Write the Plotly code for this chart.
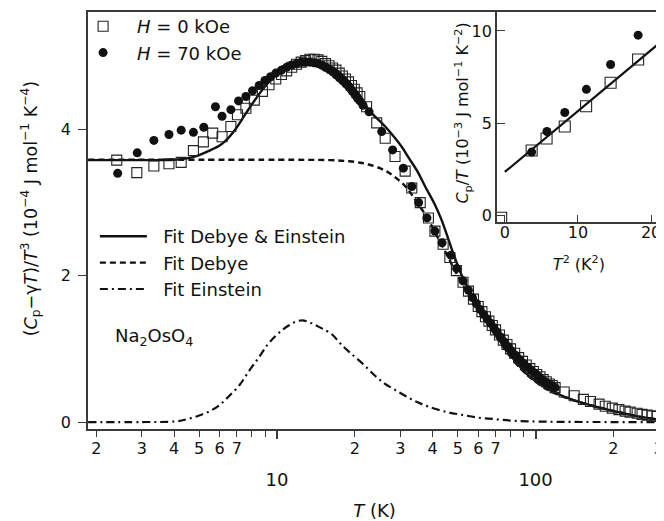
import plotly.graph_objects as go

# ---------------- data ----------------
# H = 0 kOe  (open squares)
T_h0 = [2.40, 2.87, 3.34, 3.82, 4.26, 4.75, 5.19, 5.64, 6.13, 6.63, 7.03, 7.58, 8.17, 8.78, 9.31, 9.89,
        10.4, 10.9, 11.4, 11.9, 12.4, 12.9, 13.4, 13.9, 14.4, 14.9, 15.4, 15.9, 16.4, 16.9, 17.4, 17.9,
        18.4, 18.9, 19.4, 19.9, 20.4, 20.9,
        22.2, 24.3, 26.2, 28.6, 31.3, 33.2, 35.8, 38.5, 40.8, 43.9, 46.6, 49.4, 52.4, 55.0, 57.5,
        60, 62, 64, 66, 68, 70, 72.5, 75, 77.5, 80, 83, 86, 89, 92, 95, 98, 101, 104, 107, 110, 113, 116, 119,
        129, 141, 153, 163, 176, 186, 198, 210, 222, 232, 247, 258, 270, 282, 295]
C_h0 = [3.58, 3.41, 3.50, 3.53, 3.55, 3.71, 3.83, 3.95, 3.90, 4.04, 4.20, 4.29, 4.40, 4.52, 4.61, 4.69,
        4.75, 4.80, 4.85, 4.89, 4.92, 4.94, 4.96, 4.96, 4.95, 4.93, 4.90, 4.87, 4.84, 4.81, 4.77, 4.73,
        4.69, 4.65, 4.60, 4.55, 4.50, 4.45,
        4.31, 4.09, 3.88, 3.63, 3.43, 3.20, 3.00, 2.79, 2.61, 2.43, 2.25, 2.07, 1.91, 1.79, 1.68,
        1.58, 1.51, 1.44, 1.38, 1.32, 1.26, 1.19, 1.12, 1.06, 1.00, 0.94, 0.88, 0.83, 0.78, 0.73, 0.69, 0.65,
        0.62, 0.58, 0.55, 0.52, 0.50, 0.47,
        0.41, 0.36, 0.31, 0.28, 0.245, 0.215, 0.19, 0.17, 0.15, 0.135, 0.12, 0.105, 0.095, 0.085, 0.075]

# H = 70 kOe (filled circles)
T_h70 = [2.42, 2.88, 3.34, 3.82, 4.26, 4.75, 5.21, 5.78, 6.13, 6.63, 7.10, 7.58, 8.04, 8.53, 8.98, 9.44, 9.89,
         10.4, 10.9, 11.4, 11.9, 12.4, 12.9, 13.4, 13.9, 14.4, 14.9, 15.4, 15.9, 16.4, 16.9, 17.4, 17.9,
         18.4, 18.9, 19.4, 19.9, 20.4, 20.9, 21.5,
         22.7, 25.4, 28.0, 30.8, 33.2, 35.3, 38.0, 40.8, 43.5, 47.1, 49.5, 52.4, 55, 57, 59, 61, 63, 65, 67,
         69, 71, 73.5, 76, 78.5, 81, 84, 87, 90, 93, 96, 99, 102, 105, 108, 111, 114, 117, 119]
C_h70 = [3.40, 3.68, 3.85, 3.93, 3.99, 3.96, 4.03, 4.31, 4.18, 4.27, 4.39, 4.45, 4.53, 4.60, 4.67, 4.72, 4.77,
         4.81, 4.85, 4.88, 4.90, 4.92, 4.92, 4.92, 4.91, 4.90, 4.88, 4.85, 4.82, 4.79, 4.75, 4.71, 4.67,
         4.63, 4.59, 4.54, 4.49, 4.44, 4.39, 4.33,
         4.24, 3.97, 3.72, 3.47, 3.22, 3.00, 2.79, 2.61, 2.45, 2.28, 2.10, 1.93, 1.80, 1.70, 1.62, 1.54, 1.47,
         1.41, 1.35, 1.29, 1.23, 1.16, 1.09, 1.03, 0.97, 0.91, 0.85, 0.80, 0.75, 0.71, 0.67, 0.63, 0.59, 0.56,
         0.53, 0.51, 0.48, 0.47]

# Fit curves
T_fit_de = [1.86, 2.5, 3.0, 3.5, 4.0, 4.59, 5.0, 5.48, 6.0, 6.35, 6.93, 7.58, 8.28, 9.05, 9.9, 11.0, 12.0,
            13.3, 14.5, 16.0, 18.0, 20.7, 22.6, 26.2, 30.4, 32.2, 35.0, 37.4, 40.8, 43.2, 46.0, 48.1, 51.6,
            55.0, 58.0, 65, 72, 80, 93, 108, 121, 140, 163, 190, 219, 255, 305]
C_fit_de = [3.58, 3.58, 3.58, 3.58, 3.585, 3.61, 3.65, 3.71, 3.78, 3.85, 4.01, 4.22, 4.42, 4.60, 4.74, 4.85,
            4.91, 4.94, 4.93, 4.87, 4.74, 4.48, 4.27, 4.04, 3.76, 3.62, 3.42, 3.22, 2.97, 2.77, 2.50, 2.30,
            2.02, 1.82, 1.66, 1.38, 1.13, 0.91, 0.65, 0.48, 0.39, 0.30, 0.23, 0.17, 0.12, 0.07, 0.03]

T_fit_d = [1.86, 10, 16, 19, 21, 22.6, 25, 27, 29, 31, 32.7, 35, 38, 41, 44, 47, 50, 55, 60, 70, 80, 93,
           108, 121, 140, 163, 190, 219, 255, 305]
C_fit_d = [3.585, 3.585, 3.58, 3.565, 3.545, 3.52, 3.47, 3.41, 3.33, 3.24, 3.14, 2.99, 2.80, 2.58, 2.38,
           2.18, 2.00, 1.74, 1.53, 1.18, 0.89, 0.64, 0.47, 0.38, 0.30, 0.23, 0.17, 0.12, 0.07, 0.03]

T_fit_e = [1.86, 3.0, 4.08, 4.5, 5.0, 5.5, 5.98, 6.5, 7.14, 7.8, 8.53, 9.2, 9.89, 10.5, 11.1, 11.8, 12.5,
           13.2, 14.0, 14.9, 16.3, 17.5, 19.0, 21.4, 24.0, 26.0, 28.6, 32.0, 35.0, 38.5, 45.0, 51.6, 60.0,
           69.4, 80, 93, 120, 305]
C_fit_e = [0.0, 0.0, 0.01, 0.04, 0.09, 0.15, 0.23, 0.35, 0.50, 0.70, 0.89, 1.06, 1.18, 1.26, 1.32, 1.37,
           1.39, 1.37, 1.33, 1.28, 1.20, 1.08, 0.96, 0.80, 0.63, 0.53, 0.44, 0.34, 0.27, 0.21, 0.14, 0.10,
           0.06, 0.04, 0.02, 0.01, 0.003, 0.0]

# Inset: Cp/T vs T^2
T2_h0 = [-0.5, 3.67, 5.71, 8.2, 11.12, 14.47, 18.23]
CpT_h0 = [-0.15, 3.51, 4.16, 4.81, 5.91, 7.19, 8.45]
T2_h70 = [3.67, 5.76, 8.2, 11.16, 14.47, 18.23]
CpT_h70 = [3.42, 4.54, 5.57, 6.83, 8.18, 9.77]
T2_fit = [0, 22]
CpT_fit = [2.34, 9.62]

# Tick labels
minor_tickvals = [2, 3, 4, 5, 6, 7, 20, 30, 40, 50, 60, 70, 200, 300]
minor_ticktext = ["2", "3", "4", "5", "6", "7", "2", "3", "4", "5", "6", "7", "2", "3"]
unlabeled_tickvals = [8, 9, 80, 90]
major_tickvals = [10, 100]
major_ticktext = ["10", "100"]

FONT = "DejaVu Sans"
INK = "#111111"
AX = "#3a3a3a"
PAD = "&nbsp;&nbsp;"

fig = go.Figure()

fig.add_trace(go.Scatter(x=T_fit_de, y=C_fit_de, mode="lines", name=PAD + "Fit Debye &amp; Einstein",
                         line=dict(color=INK, width=2.4, shape="spline"), legend="legend2"))
fig.add_trace(go.Scatter(x=T_fit_d, y=C_fit_d, mode="lines", name=PAD + "Fit Debye",
                         line=dict(color=INK, width=2.4, dash="6px,4px", shape="spline"), legend="legend2"))
fig.add_trace(go.Scatter(x=T_fit_e, y=C_fit_e, mode="lines", name=PAD + "Fit Einstein",
                         line=dict(color=INK, width=2.2, dash="8px,4px,2px,4px", shape="spline"),
                         legend="legend2"))
fig.add_trace(go.Scatter(x=T_h0, y=C_h0, mode="markers", name="<i>H</i> = 0 kOe",
                         marker=dict(symbol="square-open", size=10, color="#222222", line=dict(width=1.1)),
                         legend="legend"))
fig.add_trace(go.Scatter(x=T_h70, y=C_h70, mode="markers", name="<i>H</i> = 70 kOe",
                         marker=dict(symbol="circle", size=9, color=INK), legend="legend"))

# inset
fig.add_trace(go.Scatter(x=T2_fit, y=CpT_fit, mode="lines", line=dict(color=INK, width=2.2),
                         xaxis="x2", yaxis="y2", showlegend=False))
fig.add_trace(go.Scatter(x=T2_h0, y=CpT_h0, mode="markers", xaxis="x2", yaxis="y2", showlegend=False,
                         marker=dict(symbol="square-open", size=11, color="#222222", line=dict(width=1.1))))
fig.add_trace(go.Scatter(x=T2_h70, y=CpT_h70, mode="markers", xaxis="x2", yaxis="y2", showlegend=False,
                         marker=dict(symbol="circle", size=9, color=INK)))
# invisible trace to host the major-tick overlay axis
fig.add_trace(go.Scatter(x=[10], y=[0], mode="markers", marker=dict(opacity=0), xaxis="x3", yaxis="y",
                         showlegend=False, hoverinfo="skip"))

# The page body has an 8 px margin, so the figure is 8 px smaller and shifted.
fig.update_layout(
    width=656, height=513,
    margin=dict(l=80, r=0, t=2, b=92),
    paper_bgcolor="white", plot_bgcolor="white",
    font=dict(family=FONT, size=16, color=INK),
    xaxis=dict(type="log", range=[0.269, 2.485], domain=[0, 1], anchor="y",
               tickmode="array", tickvals=minor_tickvals, ticktext=minor_ticktext,
               ticks="outside", ticklen=6, tickwidth=1.3, tickcolor=AX,
               minor=dict(tickmode="array", tickvals=unlabeled_tickvals, ticks="outside", ticklen=6,
                          tickwidth=1.3, tickcolor=AX, showgrid=False),
               tickfont=dict(size=16), ticklabelstandoff=-2, ticklabeloverflow="allow",
               showline=True, linecolor=AX, linewidth=1.6, mirror=True,
               showgrid=False, zeroline=False,
               title=dict(text="<i>T</i> (K)", font=dict(size=18), standoff=47)),
    xaxis3=dict(type="log", range=[0.269, 2.485], overlaying="x", anchor="y", side="bottom",
                tickmode="array", tickvals=major_tickvals, ticktext=major_ticktext,
                ticks="outside", ticklen=9, tickwidth=1.5, tickcolor=AX,
                tickfont=dict(size=18), ticklabelstandoff=25,
                showline=False, showgrid=False, zeroline=False),
    yaxis=dict(range=[-0.095, 5.605], domain=[0, 1], anchor="x",
               tickmode="array", tickvals=[0, 2, 4], ticks="outside", ticklen=8, tickwidth=1.3,
               tickcolor=AX, tickfont=dict(size=16), ticklabelstandoff=4,
               showline=True, linecolor=AX, linewidth=1.6, showgrid=False, zeroline=False),
    xaxis2=dict(range=[-1.09, 21.36], domain=[0.7135, 1], anchor="y2",
                tickmode="array", tickvals=[0, 10, 20], ticks="inside", ticklen=7, tickwidth=1.3,
                tickcolor=AX, tickfont=dict(size=16), ticklabeloverflow="allow", ticklabelstandoff=-5,
                showline=True, linecolor=AX, linewidth=1.6, mirror=True,
                showgrid=False, zeroline=False,
                title=dict(text="<i>T</i><sup>2</sup> (K<sup>2</sup>)", font=dict(size=16), standoff=18)),
    yaxis2=dict(range=[-0.378, 11.03], domain=[0.4964, 1], anchor="x2",
                tickmode="array", tickvals=[0, 5, 10], ticks="inside", ticklen=8, tickwidth=1.3,
                tickcolor=AX, tickfont=dict(size=16),
                showline=True, linecolor=AX, linewidth=1.6, showgrid=False, zeroline=False),
    legend=dict(x=-0.033, y=1.01, xanchor="left", yanchor="top", bgcolor="rgba(0,0,0,0)",
                font=dict(size=18), itemwidth=58, tracegroupgap=0),
    legend2=dict(x=0.012, y=0.506, xanchor="left", yanchor="top", bgcolor="rgba(0,0,0,0)",
                 font=dict(size=18), itemwidth=47, tracegroupgap=0),
    annotations=[
        dict(text="(<i>C</i><sub>p</sub>−γ<i>T</i>)/<i>T</i><sup>3</sup> (10<sup>−4</sup> J mol<sup>−1</sup> K<sup>−4</sup>)",
             xref="paper", yref="paper", x=(30 - 88) / 576, y=(429 - 208) / 419,
             textangle=-90, showarrow=False, font=dict(size=17.5), xanchor="center", yanchor="middle"),
        dict(text="<i>C</i><sub>p</sub>/<i>T</i> (10<sup>−3</sup> J mol<sup>−1</sup> K<sup>−2</sup>)",
             xref="paper", yref="paper", x=(465 - 88) / 576, y=(429 - 112) / 419,
             textangle=-90, showarrow=False, font=dict(size=16), xanchor="center", yanchor="middle"),
        dict(text="Na<sub>2</sub>OsO<sub>4</sub>", xref="paper", yref="paper",
             x=(113 - 88) / 576, y=(429 - 337) / 419, showarrow=False, font=dict(size=18),
             xanchor="left", yanchor="middle"),
    ],
)

fig.write_html("out.html")
